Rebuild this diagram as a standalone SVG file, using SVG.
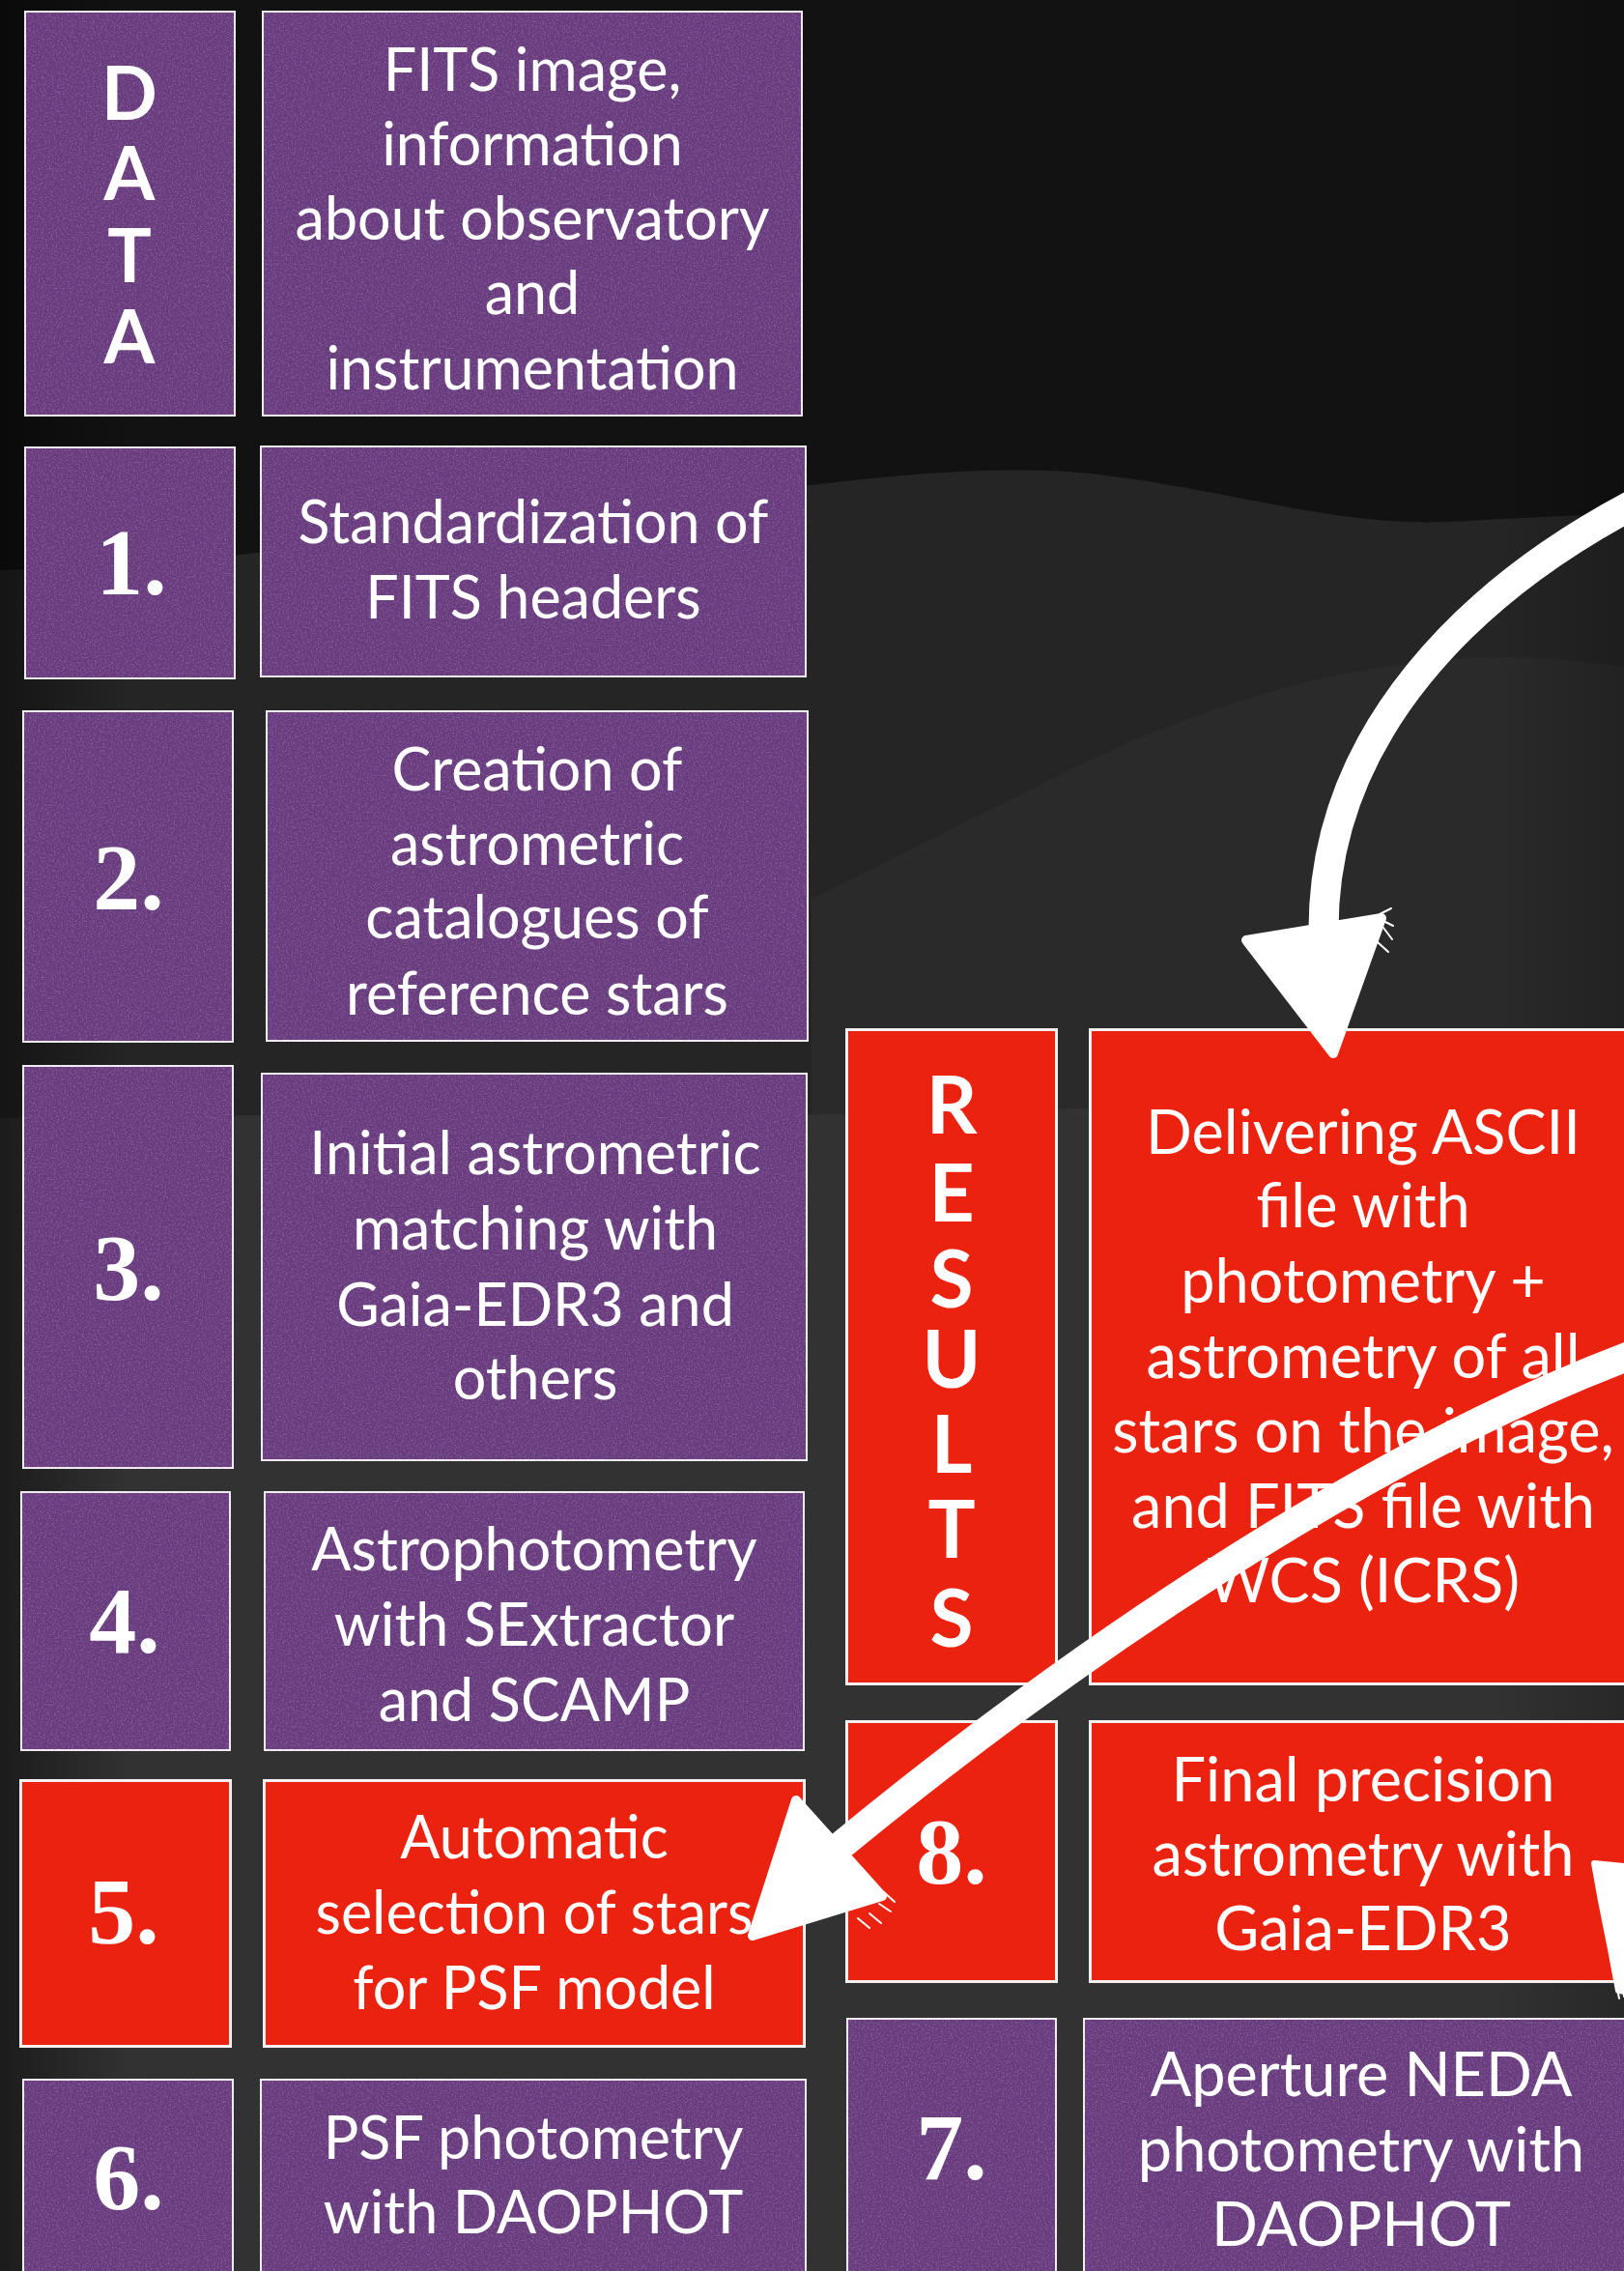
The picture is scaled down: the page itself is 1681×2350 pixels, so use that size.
<svg xmlns="http://www.w3.org/2000/svg" width="1681" height="2350" viewBox="0 0 1681 2350">
<style>
.pu{fill:#683a7e;stroke:#f2eef4;stroke-width:3}
.rd{fill:#ec2210;stroke:#f4f0f0;stroke-width:3}
.t{font-family:Lato,"Open Sans","Liberation Sans",sans-serif;font-size:61px;fill:#ffffff;text-anchor:middle}
.tr{font-family:Lato,"Open Sans","Liberation Sans",sans-serif;font-size:63px;fill:#ffffff;text-anchor:middle}
.n{font-family:"Liberation Serif","Times New Roman",serif;font-weight:bold;font-size:98px;fill:#ffffff;text-anchor:middle}
.v{font-family:Lato,"Liberation Sans",sans-serif;font-weight:bold;fill:#ffffff;text-anchor:middle}
.arrow{fill:#ffffff;stroke:#ffffff;stroke-linejoin:round}
.shaft{fill:none;stroke:#ffffff;stroke-linecap:butt}
.brush{fill:none;stroke:#ffffff;stroke-width:2;stroke-linecap:round}
</style>
<defs>
<filter id="grain" x="0" y="0" width="1" height="1">
<feTurbulence type="fractalNoise" baseFrequency="0.55" numOctaves="3" seed="4" result="noise"/>
<feColorMatrix in="noise" type="matrix" values="0 0 0 0 0.50  0 0 0 0 0.30  0 0 0 0 0.58  0.7 0 0 0 -0.32" result="spk"/>
<feComposite in="spk" in2="SourceAlpha" operator="in" result="spkin"/>
<feMerge><feMergeNode in="SourceGraphic"/><feMergeNode in="spkin"/></feMerge>
</filter>
<linearGradient id="vig" x1="0" y1="0" x2="1" y2="0">
<stop offset="0" stop-color="#000" stop-opacity="0.45"/>
<stop offset="0.08" stop-color="#000" stop-opacity="0"/>
<stop offset="0.92" stop-color="#000" stop-opacity="0"/>
<stop offset="1" stop-color="#000" stop-opacity="0.2"/>
</linearGradient>
</defs>
<g id="background">
<rect x="0" y="0" width="1681" height="2350" fill="#121212"/>
<path d="M0,590 C250,585 500,540 840,502 C950,488 1050,482 1130,490 C1280,508 1380,545 1500,540 C1580,536 1640,532 1681,533 L1681,2350 L0,2350 Z" fill="#252525"/>
<path d="M1681,690 C1500,660 1300,700 1100,800 C1000,850 900,900 840,930 L840,1160 L1681,1160 Z" fill="#2a2a2a"/>
<path d="M0,1157 C300,1150 700,1160 1000,1150 C1300,1140 1500,1150 1681,1148 L1681,2350 L0,2350 Z" fill="#323232"/>
<rect x="0" y="0" width="1681" height="2350" fill="url(#vig)"/>
</g>
<g id="node-data">
<rect class="pu" x="25.5" y="11.5" width="218" height="419" filter="url(#grain)"/>
<text class="v" font-size="76" x="134" y="124">D</text>
<text class="v" font-size="76" x="134" y="207">A</text>
<text class="v" font-size="76" x="134" y="292">T</text>
<text class="v" font-size="76" x="134" y="376">A</text>
</g>
<g id="node-fits">
<rect class="pu" x="271.5" y="11.5" width="559" height="419" filter="url(#grain)"/>
<text class="t" x="551" y="94">FITS image,</text>
<text class="t" x="551" y="171">information</text>
<text class="t" x="551" y="248">about observatory</text>
<text class="t" x="551" y="325">and</text>
<text class="t" x="551" y="403">instrumentation</text>
</g>
<g id="node-1">
<rect class="pu" x="25.5" y="462.5" width="218" height="240" filter="url(#grain)"/>
<text class="n" x="136" y="615">1.</text>
</g>
<g id="node-std">
<rect class="pu" x="269.5" y="461.5" width="565" height="239" filter="url(#grain)"/>
<text class="t" x="552" y="562">Standardization of</text>
<text class="t" x="552" y="640">FITS headers</text>
</g>
<g id="node-2">
<rect class="pu" x="23.5" y="735.5" width="218" height="343" filter="url(#grain)"/>
<text class="n" x="133" y="941">2.</text>
</g>
<g id="node-creation">
<rect class="pu" x="275.5" y="735.5" width="561" height="342" filter="url(#grain)"/>
<text class="t" x="556" y="818">Creation of</text>
<text class="t" x="556" y="895">astrometric</text>
<text class="t" x="556" y="971">catalogues of</text>
<text class="t" x="556" y="1050">reference stars</text>
</g>
<g id="node-3">
<rect class="pu" x="23.5" y="1102.5" width="218" height="417" filter="url(#grain)"/>
<text class="n" x="133" y="1345">3.</text>
</g>
<g id="node-initial">
<rect class="pu" x="270.5" y="1110.5" width="565" height="401" filter="url(#grain)"/>
<text class="t" x="554" y="1215">Initial astrometric</text>
<text class="t" x="554" y="1293">matching with</text>
<text class="t" x="554" y="1372">Gaia-EDR3 and</text>
<text class="t" x="554" y="1448">others</text>
</g>
<g id="node-4">
<rect class="pu" x="21.5" y="1543.5" width="217" height="268" filter="url(#grain)"/>
<text class="n" x="129" y="1710">4.</text>
</g>
<g id="node-astro">
<rect class="pu" x="273.5" y="1543.5" width="559" height="268" filter="url(#grain)"/>
<text class="t" x="553" y="1625">Astrophotometry</text>
<text class="t" x="553" y="1703">with SExtractor</text>
<text class="t" x="553" y="1781">and SCAMP</text>
</g>
<g id="node-5">
<rect class="rd" x="21.5" y="1842.5" width="217" height="275"/>
<text class="n" x="128" y="2011">5.</text>
</g>
<g id="node-auto">
<rect class="rd" x="273.5" y="1842.5" width="559" height="275"/>
<text class="t" x="553" y="1923">Automatic</text>
<text class="t" x="553" y="2001">selection of stars</text>
<text class="t" x="553" y="2079">for PSF model</text>
</g>
<g id="node-6">
<rect class="pu" x="23.5" y="2151.5" width="218" height="220" filter="url(#grain)"/>
<text class="n" x="133" y="2286">6.</text>
</g>
<g id="node-psf">
<rect class="pu" x="269.5" y="2151.5" width="565" height="220" filter="url(#grain)"/>
<text class="t" x="552" y="2234">PSF photometry</text>
<text class="t" x="552" y="2311">with DAOPHOT</text>
</g>
<g id="node-results">
<rect class="rd" x="876.5" y="1065.5" width="217" height="677"/>
<text class="v" font-size="82" x="985" y="1173">R</text>
<text class="v" font-size="82" x="985" y="1264">E</text>
<text class="v" font-size="82" x="985" y="1353">S</text>
<text class="v" font-size="82" x="985" y="1436">U</text>
<text class="v" font-size="82" x="985" y="1524">L</text>
<text class="v" font-size="82" x="985" y="1612">T</text>
<text class="v" font-size="82" x="985" y="1704">S</text>
</g>
<g id="node-delivering">
<rect class="rd" x="1128.5" y="1065.5" width="580" height="677"/>
<text class="tr" x="1411" y="1194">Delivering ASCII</text>
<text class="tr" x="1411" y="1270">file with</text>
<text class="tr" x="1411" y="1348">photometry +</text>
<text class="tr" x="1411" y="1426">astrometry of all</text>
<text class="tr" x="1411" y="1503">stars on the image,</text>
<text class="tr" x="1411" y="1581">and FITS file with</text>
<text class="tr" x="1411" y="1658">WCS (ICRS)</text>
</g>
<g id="node-8">
<rect class="rd" x="876.5" y="1781.5" width="217" height="269"/>
<text class="n" x="985" y="1949">8.</text>
</g>
<g id="node-final">
<rect class="rd" x="1128.5" y="1781.5" width="580" height="269"/>
<text class="tr" x="1411" y="1864">Final precision</text>
<text class="tr" x="1411" y="1941">astrometry with</text>
<text class="tr" x="1411" y="2018">Gaia-EDR3</text>
</g>
<g id="node-7">
<rect class="pu" x="876.5" y="2088.5" width="217" height="280" filter="url(#grain)"/>
<text class="n" x="985" y="2255">7.</text>
</g>
<g id="node-aperture">
<rect class="pu" x="1121.5" y="2088.5" width="587" height="280" filter="url(#grain)"/>
<text class="tr" x="1409" y="2169">Aperture NEDA</text>
<text class="tr" x="1409" y="2247">photometry with</text>
<text class="tr" x="1409" y="2324">DAOPHOT</text>
</g>
<g id="connectors">
<path class="shaft" stroke-width="31" d="M1700,517 C1520,610 1370,760 1370,962"/>
<polygon class="arrow" stroke-width="10" points="1380,1090 1290,973 1430,950"/>
<path class="brush" d="M1428,946 L1440,940 M1430,952 L1442,958 M1432,960 L1441,972 M1426,975 L1437,985"/>
<path class="shaft" stroke-width="30" d="M1700,1398 C1450,1490 1150,1680 870,1910"/>
<polygon class="arrow" stroke-width="10" points="779,2003 824,1863 913,1962"/>
<path class="brush" d="M915,1958 L926,1968 M910,1970 L922,1978 M900,1980 L912,1990 M888,1985 L900,1995"/>
<polygon class="arrow" stroke-width="6" points="1650,1928 1690,1932 1690,2062 1675,2060 1667,2017 1657,1967"/>
<path class="brush" d="M1674,2058 L1676,2068 M1680,2058 L1681,2066"/>
</g>
</svg>
